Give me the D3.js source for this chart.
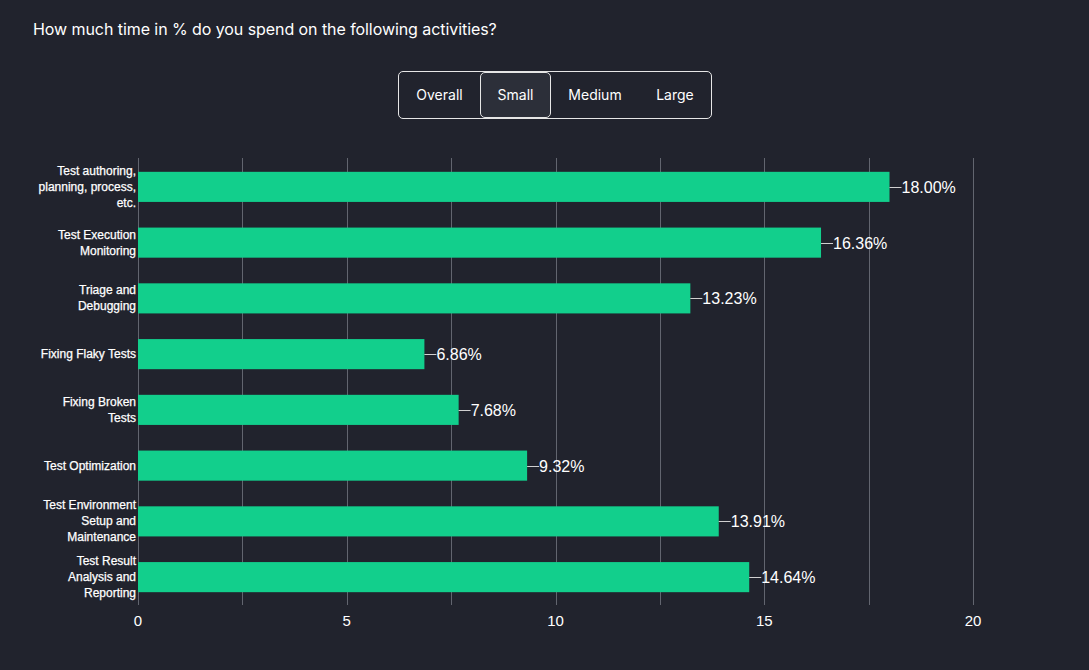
<!DOCTYPE html>
<html>
<head>
<meta charset="utf-8">
<script src="https://cdn.jsdelivr.net/npm/d3@7"></script>
<style>
  html, body { margin: 0; padding: 0; background: #21232d; }
  body { width: 1089px; height: 670px; overflow: hidden; position: relative; font-family: Inter, "Noto Sans", sans-serif; }
  .title { position: absolute; left: 33px; top: 19px; color: #fff; font-size: 16px; letter-spacing: -0.07px; }
  .btns { position: absolute; left: 398px; top: 71px; width: 312px; height: 46px; border: 1px solid #e6e6e6; border-radius: 5px; box-sizing: content-box; }
  .btn { position: absolute; top: 0; height: 46px; line-height: 46px; color: #fff; font-size: 14px; text-align: center; }
  .btn.sel { border: 1px solid #e6e6e6; border-radius: 5px; background: #2c2f39; top: 0; height: 44px; line-height: 44px; }
  svg { position: absolute; left: 0; top: 0; }
</style>
</head>
<body>
<div class="title">How much time in % do you spend on the following activities?</div>
<div class="btns" id="btns"></div>
<svg id="chart" width="1089" height="670"></svg>
<script>
"use strict";

var categories = [
  ["Test authoring,", "planning, process,", "etc."],
  ["Test Execution", "Monitoring"],
  ["Triage and", "Debugging"],
  ["Fixing Flaky Tests"],
  ["Fixing Broken", "Tests"],
  ["Test Optimization"],
  ["Test Environment", "Setup and", "Maintenance"],
  ["Test Result", "Analysis and", "Reporting"]
];
var values = [18.00, 16.36, 13.23, 6.86, 7.68, 9.32, 13.91, 14.64];
var xTicks = [0, 5, 10, 15, 20];
var gridTicks = [0, 2.5, 5, 7.5, 10, 12.5, 15, 17.5, 20];
var buttons = ["Overall", "Small", "Medium", "Large"];
var selected = "Small";

// buttons
var btnLeft = [0, 81, 156, 236];
var btnWidth = [81, 71, 80, 80];
d3.select("#btns").selectAll("div")
  .data(buttons)
  .enter()
  .append("div")
  .attr("class", function(d) { return d === selected ? "btn sel" : "btn"; })
  .style("left", function(d, i) { return btnLeft[i] + "px"; })
  .style("width", function(d, i) { return (d === selected ? btnWidth[i] - 2 : btnWidth[i]) + "px"; })
  .text(function(d) { return d; });

var svg = d3.select("#chart");
var plotLeft = 138, plotRight = 973, plotTop = 159, plotBottom = 605;

var xScale = d3.scaleLinear().domain([0, 20]).range([plotLeft, plotRight]);
var yScale = d3.scaleBand()
  .domain(d3.range(values.length))
  .range([plotTop, plotBottom])
  .paddingInner(0.46)
  .paddingOuter(0.23);

// grid lines
svg.append("g")
  .selectAll("line")
  .data(gridTicks)
  .enter()
  .append("line")
  .attr("x1", function(d) { return Math.round(xScale(d)) + 0.5; })
  .attr("x2", function(d) { return Math.round(xScale(d)) + 0.5; })
  .attr("y1", plotTop - 1)
  .attr("y2", plotBottom)
  .attr("stroke", "#62656f")
  .attr("stroke-width", 1);

// x axis labels
svg.append("g")
  .selectAll("text")
  .data(xTicks)
  .enter()
  .append("text")
  .attr("x", function(d) { return xScale(d); })
  .attr("y", 626)
  .attr("text-anchor", "middle")
  .attr("fill", "#fff")
  .style("font-family", "Liberation Sans, Arial, sans-serif")
  .style("font-size", "15px")
  .text(function(d) { return d; });

// bars
svg.append("g")
  .selectAll("rect")
  .data(values)
  .enter()
  .append("rect")
  .attr("x", xScale(0))
  .attr("y", function(d, i) { return yScale(i); })
  .attr("width", function(d) { return xScale(d) - xScale(0); })
  .attr("height", yScale.bandwidth())
  .attr("fill", "#12cf8c");

// value labels with leader line
var vl = svg.append("g");
vl.selectAll("line")
  .data(values)
  .enter()
  .append("line")
  .attr("x1", function(d) { return xScale(d); })
  .attr("x2", function(d) { return xScale(d) + 12; })
  .attr("y1", function(d, i) { return Math.round(yScale(i) + yScale.bandwidth() / 2) + 0.5; })
  .attr("y2", function(d, i) { return Math.round(yScale(i) + yScale.bandwidth() / 2) + 0.5; })
  .attr("stroke", "#d0d0d0")
  .attr("stroke-width", 1);

vl.selectAll("text")
  .data(values)
  .enter()
  .append("text")
  .attr("x", function(d) { return xScale(d) + 12; })
  .attr("y", function(d, i) { return yScale(i) + yScale.bandwidth() / 2 + 6; })
  .attr("fill", "#fff")
  .style("font-family", "Liberation Sans, Arial, sans-serif")
  .style("font-size", "16px")
  .text(function(d) { return d.toFixed(2) + "%"; });

// category labels
var cl = svg.append("g");
cl.selectAll("text")
  .data(categories)
  .enter()
  .append("text")
  .attr("text-anchor", "end")
  .attr("fill", "#fff")
  .attr("stroke", "#fff")
  .attr("stroke-width", 0.25)
  .style("font-family", "Liberation Sans, Arial, sans-serif")
  .style("font-size", "12px")
  .each(function(lines, i) {
    var cy = yScale(i) + yScale.bandwidth() / 2;
    var start = cy - (lines.length - 1) * 8 + 4;
    d3.select(this).selectAll("tspan")
      .data(lines)
      .enter()
      .append("tspan")
      .attr("x", 136)
      .attr("y", function(l, j) { return start + j * 16; })
      .text(function(l) { return l; });
  });
</script>
</body>
</html>
